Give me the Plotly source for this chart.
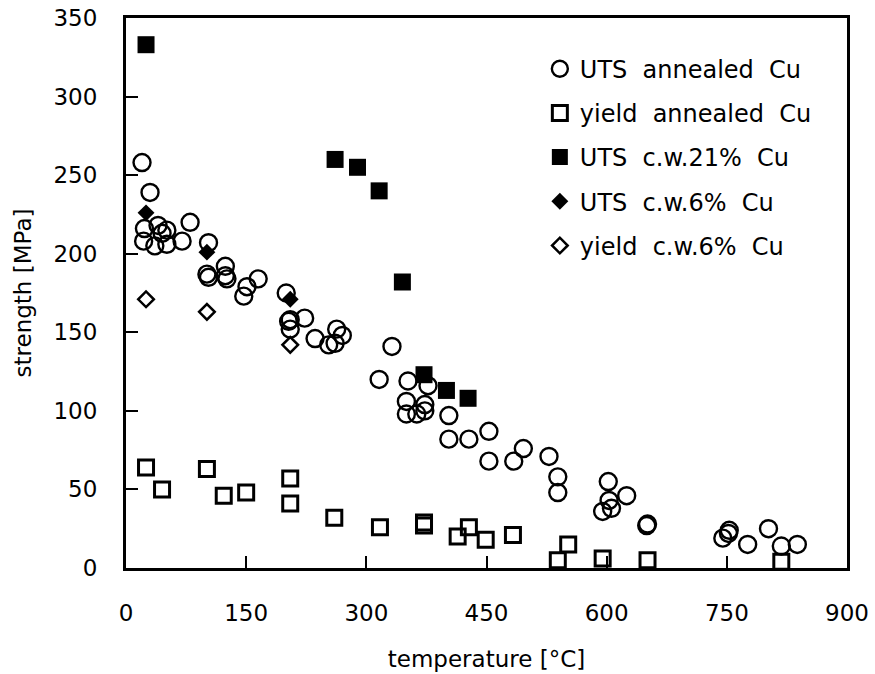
import plotly.graph_objects as go

# UTS annealed Cu (open circles)
uts_ann_T = [20, 30, 23, 40, 51, 45, 22, 36, 51, 70, 80,
             103, 101, 103, 124, 124, 126, 151, 147, 165,
             200, 205, 205, 203, 223, 236, 253, 261, 263, 270, 332,
             316, 352, 377, 350, 373, 350, 363, 373, 403, 403, 428, 453, 453, 484, 496, 528,
             539, 539, 602, 625, 603, 606, 595, 650, 651, 753, 752, 745, 776, 802, 818, 838]
uts_ann_S = [258, 239, 216, 218, 215, 213, 208, 205, 206, 208, 220,
             207, 187, 185, 192, 186, 184, 179, 173, 184,
             175, 158, 152, 157, 159, 146, 142, 143, 152, 148, 141,
             120, 119, 116, 106, 104, 98, 98, 100, 97, 82, 82, 87, 68, 68, 76, 71,
             58, 48, 55, 46, 43, 38, 36, 27, 28, 24, 22, 19, 15, 25, 14, 15]

# yield annealed Cu (open squares)
y_ann_T = [25, 45, 101, 122, 150, 205, 205, 260, 317, 372, 372, 428, 414, 449, 483, 552, 539, 595, 651, 818]
y_ann_S = [64, 50, 63, 46, 48, 57, 41, 32, 26, 29, 27, 26, 20, 18, 21, 15, 5, 6, 5, 4]

# UTS c.w.21% Cu (filled squares)
uts21_T = [25, 261, 289, 316, 345, 372, 400, 427]
uts21_S = [333, 260, 255, 240, 182, 123, 113, 108]

# UTS c.w.6% Cu (filled diamonds)
uts6_T = [25, 101, 205]
uts6_S = [226, 201, 171]

# yield c.w.6% Cu (open diamonds)
y6_T = [25, 101, 205]
y6_S = [171, 163, 142]

names = ["UTS\u00a0\u00a0annealed\u00a0\u00a0Cu", "yield\u00a0\u00a0annealed\u00a0\u00a0Cu",
         "UTS\u00a0\u00a0c.w.21%\u00a0\u00a0Cu", "UTS\u00a0\u00a0c.w.6%\u00a0\u00a0Cu",
         "yield\u00a0\u00a0c.w.6%\u00a0\u00a0Cu"]

FONT = "DejaVu Sans"
fig = go.Figure()

def add(x, y, name, symbol, size, lw, grp):
    fig.add_trace(go.Scatter(
        x=x, y=y, mode="markers", name=name, legendgroup=grp, cliponaxis=False,
        marker=dict(symbol=symbol, size=size, color="black",
                    line=dict(color="black", width=lw))))

add(uts_ann_T, uts_ann_S, names[0], "circle-open", 17, 2.4, "a")
add(y_ann_T, y_ann_S, names[1], "square-open", 15, 3, "b")
add(uts21_T, uts21_S, names[2], "square", 17, 0, "c")
add(uts6_T, uts6_S, names[3], "diamond", 13, 0, "d")
add(y6_T, y6_S, names[4], "diamond-open", 12, 2.5, "e")

axis_common = dict(showline=True, linecolor="black", linewidth=3, mirror=True,
                   ticks="inside", ticklen=12, tickwidth=2, tickcolor="black",
                   showgrid=False, zeroline=False, automargin=False,
                   tickfont=dict(family=FONT, size=23, color="black"))

fig.update_xaxes(range=[0, 900], tickmode="array", tickvals=[0, 150, 300, 450, 600, 750, 900],
                 ticklabelstandoff=22,
                 title=dict(text="temperature [°C]", font=dict(family=FONT, size=23, color="black"), standoff=27),
                 **axis_common)
fig.update_yaxes(range=[0, 350], tickmode="array", tickvals=[0, 50, 100, 150, 200, 250, 300, 350],
                 ticklabelstandoff=21,
                 title=dict(text="strength [MPa]", font=dict(family=FONT, size=23, color="black"), standoff=16),
                 **axis_common)

fig.update_layout(
    width=875, height=674,
    margin=dict(l=126, r=28, t=18, b=106),
    plot_bgcolor="white", paper_bgcolor="white",
    font=dict(family=FONT, color="black"),
    legend=dict(x=0.574, y=0.948, xanchor="left", yanchor="top",
                font=dict(family=FONT, size=24, color="black"),
                tracegroupgap=10, bgcolor="rgba(0,0,0,0)", traceorder="grouped"),
)

fig.write_html("out.html")
